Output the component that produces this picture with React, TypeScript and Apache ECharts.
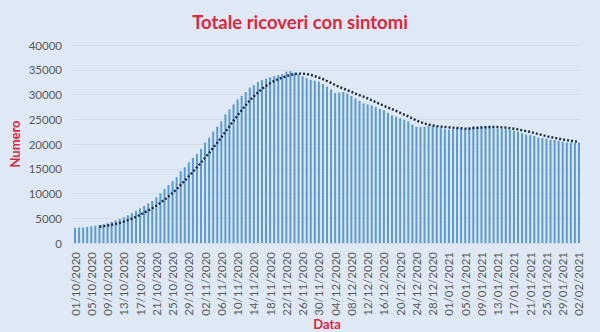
import React, { useEffect, useRef } from "react";
import * as echarts from "echarts";

// Categories: daily dates from 01/10/2020 to 02/02/2021
const START_DATE = { year: 2020, month: 9, day: 1 };
const DAY_COUNT = 125;
const dates: string[] = (() => {
  const out: string[] = [];
  for (let i = 0; i < DAY_COUNT; i++) {
    const d = new Date(Date.UTC(START_DATE.year, START_DATE.month, START_DATE.day + i));
    const dd = String(d.getUTCDate()).padStart(2, "0");
    const mm = String(d.getUTCMonth() + 1).padStart(2, "0");
    out.push(`${dd}/${mm}/${d.getUTCFullYear()}`);
  }
  return out;
})();

// Totale ricoveri con sintomi
const values: number[] = [
  3050, 3100, 3150, 3250, 3380, 3490, 3620, 3800, 4000, 4250,
  4550, 4850, 5200, 5600, 6050, 6550, 7000, 7500, 8000, 8500,
  9200, 10000, 10900, 11700, 12500, 13300, 14500, 15300, 16300, 17200,
  18000, 19000, 20300, 21300, 22500, 23500, 24600, 26000, 27000, 28000,
  29000, 29700, 30500, 31400, 31900, 32500, 32900, 33200, 33500, 33700,
  33900, 34100, 34600, 34700, 34400, 34100, 33700, 33300, 33000, 32800,
  32600, 32100, 31600, 31000, 30300, 30400, 30500, 30200, 29700, 29200,
  28700, 28200, 28000, 27800, 27500, 27100, 26800, 26300, 25800, 25500,
  25200, 24900, 24600, 23900, 23500, 23400, 23500, 23700, 23600, 23700,
  23200, 23000, 22900, 23000, 23300, 23200, 23100, 23300, 23600, 23400,
  23500, 23600, 23500, 23300, 23100, 23100, 23000, 22900, 22700, 22500,
  22200, 21900, 21800, 21600, 21300, 21200, 21100, 20900, 20800, 20700,
  20500, 20300, 20300, 20200, 20300,
];

// Trend line: moving average (period 7) of the bars, as in the original
const MA_PERIOD = 7;
const trend: (number | null)[] = values.map((_, i) => {
  if (i < MA_PERIOD - 1) return null;
  let s = 0;
  for (let k = i - MA_PERIOD + 1; k <= i; k++) s += values[k];
  return Math.round(s / MA_PERIOD);
});

const TITLE = "Totale ricoveri con sintomi";
const Y_NAME = "Numero";
const X_NAME = "Data";

const FONT = "Lato, 'Open Sans', sans-serif";
const RED = "#e0263f";
const GRAY = "#595959";

export default function App() {
  const ref = useRef<HTMLDivElement>(null);
  useEffect(() => {
    if (!ref.current) return;
    const chart = echarts.init(ref.current, undefined, { renderer: "svg" });
    chart.setOption({
      animation: false,
      backgroundColor: "#dfe9f5",
      title: {
        text: TITLE,
        left: "center",
        top: 12,
        padding: 0,
        textStyle: { fontFamily: FONT, fontWeight: "bold", fontSize: 18.5, color: RED },
      },
      grid: {
        left: 73,
        right: 19,
        top: 45,
        bottom: 89,
        containLabel: false,
        outerBoundsMode: "none",
      },
      xAxis: {
        type: "category",
        data: dates,
        name: X_NAME,
        nameLocation: "middle",
        nameGap: 74,
        nameMoveOverlap: false,
        nameTextStyle: { fontFamily: FONT, fontWeight: "bold", fontSize: 13, color: RED },
        axisTick: { show: false },
        axisLine: { show: true, lineStyle: { color: "#d3dce7" } },
        axisLabel: {
          interval: 3,
          rotate: 90,
          fontFamily: FONT,
          fontSize: 11.5,
          color: GRAY,
          margin: 9,
        },
      },
      yAxis: {
        type: "value",
        min: 0,
        max: 40000,
        interval: 5000,
        name: Y_NAME,
        nameLocation: "middle",
        nameRotate: 90,
        nameGap: 52,
        nameMoveOverlap: false,
        nameTextStyle: { fontFamily: FONT, fontWeight: "bold", fontSize: 13, color: RED },
        axisLine: { show: false },
        axisTick: { show: false },
        axisLabel: {
          fontFamily: FONT,
          fontSize: 11.5,
          color: GRAY,
          margin: 11,
          formatter: (v: number) => String(v),
        },
        splitLine: { lineStyle: { color: "#d3deeb", width: 1 } },
      },
      series: [
        {
          type: "bar",
          data: values,
          barCategoryGap: "50%",
          itemStyle: { color: "#5b9bd5" },
        },
        {
          type: "line",
          data: trend,
          symbol: "none",
          smooth: false,
          lineStyle: { type: [2, 2], width: 2.4, color: "#1c2a3f" },
          z: 5,
        },
      ],
    });
    return () => chart.dispose();
  }, []);
  return (
    <div
      ref={ref}
      style={{ position: "fixed", left: 0, top: 0, width: 600, height: 332 }}
    />
  );
}
